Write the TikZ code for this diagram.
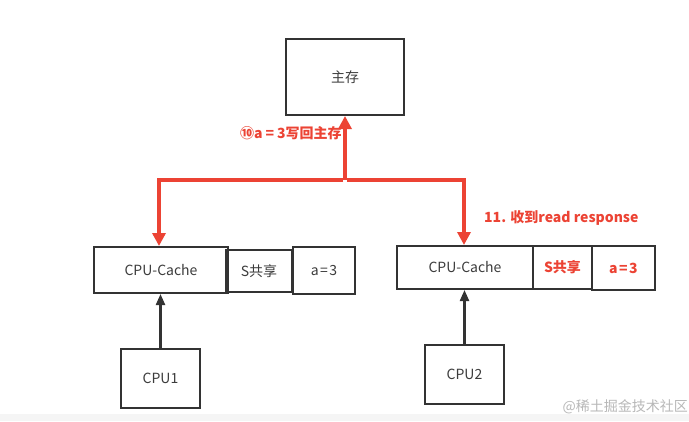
\documentclass[tikz,border=0pt]{standalone}
\usepackage{fontspec}
\setmainfont{Noto Sans CJK SC}
\usetikzlibrary{arrows.meta}
\definecolor{redl}{RGB}{236,67,52}
\definecolor{boxc}{RGB}{51,51,51}
\definecolor{txtc}{RGB}{60,60,60}
\tikzset{
  box/.style={draw=boxc, line width=2pt, text=txtc, inner sep=0pt, font=\fontsize{14}{16}\selectfont},
  redline/.style={draw=redl, line width=4pt},
  redarrow/.style={redline, -{Triangle[length=13pt,width=13pt]}},
  blackarrow/.style={draw=boxc, line width=2.2pt, -{Triangle[length=11pt,width=9pt]}},
  redlab/.style={text=redl, font=\bfseries\fontsize{14}{16}\selectfont, inner sep=0pt},
  redbox/.style={box, text=redl, font=\bfseries\fontsize{14}{16}\selectfont}
}
\newcommand{\eqsp}{\hspace{1.5pt}=\hspace{1.5pt}}
\begin{document}
\begin{tikzpicture}[x=1pt,y=-1pt]
\useasboundingbox (0,0) rectangle (689,421);
\fill[white] (0,0) rectangle (689,421);
\fill[black!4] (0,414) rectangle (689,421);
% main memory
\node[box, minimum width=118pt, minimum height=76pt] (mem) at (345,77) {主存};
% left cache
\node[box, minimum width=134pt, minimum height=46pt] (lc) at (161,270) {CPU-Cache};
\node[box, minimum width=66pt, minimum height=42pt] (ls) at (259,271) {S共享};
\node[box, minimum width=62pt, minimum height=47pt] (la) at (324,270.5) {a\eqsp3};
% right cache
\node[box, minimum width=136pt, minimum height=43pt] (rc) at (465,267.5) {CPU-Cache};
\node[redbox, minimum width=59pt, minimum height=43pt] (rs) at (562.5,267.5) {S共享};
\node[redbox, minimum width=63pt, minimum height=44pt] (ra) at (623.5,268) {a\eqsp3};
% CPUs
\node[box, minimum width=79pt, minimum height=59pt] (cpu1) at (160.5,378.5) {CPU1};
\node[box, minimum width=79pt, minimum height=59pt] (cpu2) at (464.5,374.5) {CPU2};
% red connectors
\coordinate (mid) at (345,180);
\coordinate (lcorner) at (159,180);
\coordinate (rcorner) at (464,180);
\draw[redarrow] (mid) -- (mem.south);
\draw[redarrow] ([xshift=-2pt]mid) -- (lcorner) -- (lcorner |- lc.north);
\draw[redarrow] ([xshift=2pt]mid) -- (rcorner) -- (rcorner |- rc.north);
% black connectors
\draw[blackarrow] (cpu1.north) -- (cpu1.north |- lc.south);
\draw[blackarrow] (cpu2.north) -- (cpu2.north |- rc.south);
% labels
\node[redlab, anchor=west] (lab10) at (240,133) {⑩a\hspace{3pt}=\hspace{3pt}3写回主存};
\node[redlab, anchor=west] (lab11) at (484,218) {11. 收到read response};
\node[text=black!28, font=\fontsize{14}{16}\selectfont, anchor=east, inner sep=0pt] (wm) at (688,407) {@稀土掘金技术社区};
\end{tikzpicture}
\end{document}
